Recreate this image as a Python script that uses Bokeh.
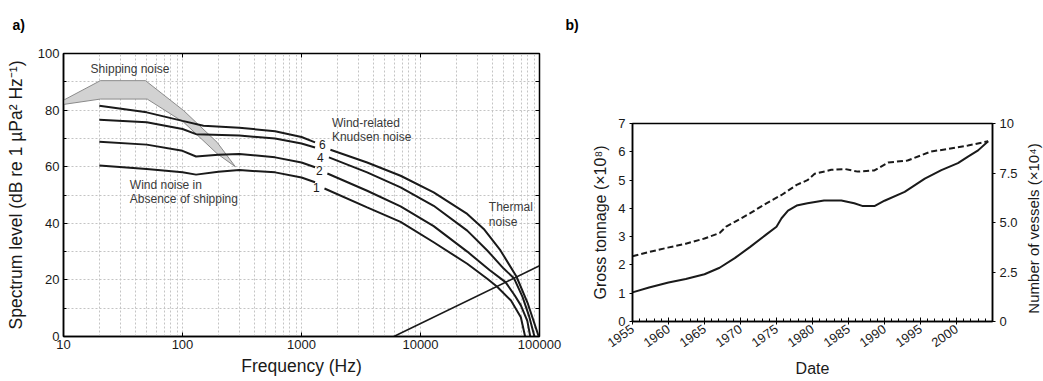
import math
from bokeh.plotting import figure
from bokeh.layouts import row, column
from bokeh.models import (Range1d, FixedTicker, LinearAxis, LogAxis,
                          PrintfTickFormatter, CustomJSTickFormatter)
from bokeh.core.properties import value
from bokeh.embed import file_html
from bokeh.resources import INLINE

FONT = "Liberation Sans"
INK = "#1a1a1a"
TXT = "#3a3a3a"

# ---------------- panel a data ----------------
# wind-noise curves (sea state 6, 4, 2, 1): low-frequency part and high-frequency part
c6_lo_f = [20, 50, 100, 150, 300, 600, 1000, 1300]
c6_lo_db = [81.5, 79.2, 76.2, 74.5, 73.8, 72.5, 70.5, 68.6]
c6_hi_f = [1750, 3560, 6800, 12900, 24700, 34000, 47000, 64000, 80000, 90000, 98500]
c6_hi_db = [66.0, 61.5, 56.8, 50.9, 43.3, 38.0, 30.4, 21.2, 11.5, 5.0, 0.0]

c4_lo_f = [20, 50, 100, 130, 300, 600, 1000, 1300]
c4_lo_db = [76.6, 75.7, 73.3, 71.5, 71.0, 70.0, 68.2, 66.8]
c4_hi_f = [1700, 3560, 6800, 12900, 24700, 36400, 50000, 61000, 72000, 82000, 90700]
c4_hi_db = [63.3, 58.0, 52.7, 46.2, 37.4, 30.4, 24.0, 20.6, 14.0, 7.0, 0.0]

c2_lo_f = [20, 50, 100, 130, 200, 300, 600, 1000, 1300]
c2_lo_db = [68.8, 67.8, 65.6, 63.6, 64.2, 64.5, 63.3, 61.5, 59.8]
c2_hi_f = [1650, 3560, 6800, 12900, 24700, 38000, 51800, 62000, 69700, 79000, 83600]
c2_hi_db = [57.6, 51.5, 46.0, 39.0, 30.0, 23.5, 19.2, 14.5, 11.0, 5.5, 0.0]

c1_lo_f = [20, 50, 100, 130, 200, 300, 600, 1000, 1300]
c1_lo_db = [60.4, 59.2, 58.0, 57.2, 58.2, 58.8, 58.0, 56.2, 54.5]
c1_hi_f = [1560, 3560, 6800, 12900, 24700, 36400, 44100, 57600, 69700, 75700]
c1_hi_db = [52.3, 45.6, 40.5, 33.3, 25.7, 20.4, 17.6, 12.7, 6.8, 0.0]

curve_label_f = [1493, 1439, 1412, 1335]
curve_label_db = [68.0, 63.3, 58.6, 52.7]
curve_label_txt = ["6", "4", "2", "1"]

thermal_f = [5970, 100000]
thermal_db = [0, 25]

ship_upper_f = [10, 20.4, 48.9, 102.4, 195.5, 278]
ship_upper_db = [83.5, 90.4, 90.4, 79.8, 68.6, 60.0]
ship_lower_f = [10, 20.4, 50.5, 102.4, 195.5, 278]
ship_lower_db = [82.0, 83.9, 83.9, 75.7, 64.6, 60.0]

ann_f = [16.9, 36.1, 36.1, 1802, 1802, 37500, 37500]
ann_db = [94.5, 53.7, 48.6, 75.4, 70.4, 45.6, 40.6]
ann_txt = ["Shipping noise", "Wind noise in", "Absence of shipping",
           "Wind-related", "Knudsen noise", "Thermal", "noise"]

freq_ticks = [10, 100, 1000, 10000, 100000]
db_ticks = [0, 20, 40, 60, 80, 100]

# ---------------- panel b data ----------------
years_gt = [1955, 1957.3, 1960, 1962.4, 1965, 1967.1, 1969.2, 1971.3, 1973.6, 1975,
            1975.7, 1976.6, 1977.8, 1979.3, 1981.6, 1984, 1985.8, 1987, 1988.6, 1990,
            1992.8, 1995.6, 1997.9, 2000.2, 2001.6, 2003, 2004.4]
gross_tonnage = [1.03, 1.2, 1.38, 1.5, 1.67, 1.9, 2.24, 2.63, 3.08, 3.35,
                 3.65, 3.92, 4.1, 4.18, 4.28, 4.28, 4.18, 4.08, 4.08, 4.27,
                 4.58, 5.05, 5.35, 5.6, 5.83, 6.05, 6.37]

years_v = [1955, 1957.3, 1959.9, 1962.4, 1965, 1967.1, 1968, 1969.2, 1971.3, 1973.6,
           1975.7, 1977.8, 1979.3, 1980.3, 1982.6, 1984.5, 1986.3, 1988.6, 1990.5,
           1993.2, 1996.5, 1998.8, 2001.6, 2004.4]
vessels = [3.3, 3.51, 3.73, 3.93, 4.19, 4.47, 4.79, 5.03, 5.46, 5.97,
           6.39, 6.9, 7.14, 7.46, 7.66, 7.7, 7.57, 7.63, 8.03,
           8.13, 8.59, 8.71, 8.89, 9.1]

year_ticks = [1955, 1960, 1965, 1970, 1975, 1980, 1985, 1990, 1995, 2000]
gt_ticks = [0, 1, 2, 3, 4, 5, 6, 7]
vessel_ticks = [0, 2.5, 5, 7.5, 10]


def style_axis(ax, size="13px", label_size="16px"):
    ax.axis_line_color = "black"
    ax.axis_line_width = 1.5
    ax.major_tick_line_color = "black"
    ax.minor_tick_line_color = "black"
    ax.major_label_text_font = FONT
    ax.major_label_text_font_size = size
    ax.major_label_text_color = INK
    ax.axis_label_text_font = FONT
    ax.axis_label_text_font_size = label_size
    ax.axis_label_text_font_style = "normal"
    ax.axis_label_text_color = INK


def style_title(t, offset, standoff):
    t.align = "left"
    t.offset = offset
    t.standoff = standoff
    t.text_font = FONT
    t.text_font_size = "14px"
    t.text_font_style = "bold"
    t.text_color = "black"


def blank(fig):
    fig.outline_line_color = None
    fig.grid.visible = False
    fig.background_fill_color = "white"
    fig.border_fill_color = "white"


HEAD = 40          # height of the strips carrying the panel letters
HEAD_TOP = 38
HEAD_STANDOFF = 12

# ================= panel a =================
W1 = 565
AL, AR = 63, W1 - 539

pa_head = figure(width=W1, height=HEAD, output_backend="svg", toolbar_location=None,
                 x_axis_location=None, y_axis_location=None, title="a)",
                 min_border_left=AL, min_border_right=AR, min_border_top=HEAD_TOP,
                 min_border_bottom=0)
blank(pa_head)
style_title(pa_head.title, -51, HEAD_STANDOFF)

p1 = figure(width=W1, height=381 - HEAD, x_axis_type="log",
            x_range=Range1d(10, 100000), y_range=Range1d(0, 100),
            output_backend="svg", toolbar_location=None,
            min_border_left=AL, min_border_right=AR, min_border_top=53 - HEAD,
            min_border_bottom=45)
p1.outline_line_color = "black"
p1.outline_line_width = 1.5
p1.background_fill_color = "white"
p1.border_fill_color = "white"

x_minor = [m * d for d in (10, 100, 1000, 10000) for m in range(2, 10)]
xt = FixedTicker(ticks=freq_ticks, minor_ticks=x_minor)
yt = FixedTicker(ticks=db_ticks, minor_ticks=[10, 30, 50, 70, 90])
p1.xaxis.ticker = xt
p1.xgrid.ticker = xt
p1.yaxis.ticker = yt
p1.ygrid.ticker = yt
p1.xaxis.formatter = PrintfTickFormatter(format="%d")
for ax in (p1.xaxis[0], p1.yaxis[0]):
    style_axis(ax, label_size="17.5px")
    ax.major_tick_in = 4
    ax.major_tick_out = 0
    ax.minor_tick_in = 0
    ax.minor_tick_out = 0
p1.yaxis.minor_tick_in = 3
p1.xaxis.major_label_standoff = 3
p1.yaxis.major_label_standoff = 4
p1.xaxis.axis_label = "Frequency (Hz)"
p1.yaxis.axis_label = "Spectrum level (dB re 1 µPa² Hz⁻¹)"
p1.xaxis.axis_label_standoff = 4
p1.yaxis.axis_label_standoff = 9

for g in (p1.xgrid[0], p1.ygrid[0]):
    g.grid_line_color = "#c4c4c4"
    g.grid_line_dash = "2 2"
    g.grid_line_width = 1
    g.minor_grid_line_color = "#c4c4c4"
    g.minor_grid_line_dash = "2 2"
    g.minor_grid_line_width = 1

top_ax = LogAxis(ticker=FixedTicker(ticks=[], minor_ticks=freq_ticks),
                 minor_tick_in=4, minor_tick_out=0, axis_line_color=None,
                 major_tick_in=0, major_tick_out=0, major_label_text_font_size="0px")
p1.add_layout(top_ax, "above")
right_ax = LinearAxis(ticker=FixedTicker(ticks=[], minor_ticks=[10, 20, 30, 40, 50, 60, 70, 80, 90]),
                      minor_tick_in=4, minor_tick_out=0, axis_line_color=None,
                      major_tick_in=0, major_tick_out=0, major_label_text_font_size="0px")
p1.add_layout(right_ax, "right")

ship_f = ship_upper_f + ship_lower_f[::-1]
ship_db = ship_upper_db + ship_lower_db[::-1]
p1.patch(ship_f, ship_db, fill_color="#d2d2d2", line_color="#8a8a8a", line_width=1)

for fx, dy in ((c6_lo_f, c6_lo_db), (c6_hi_f, c6_hi_db), (c4_lo_f, c4_lo_db), (c4_hi_f, c4_hi_db),
               (c2_lo_f, c2_lo_db), (c2_hi_f, c2_hi_db), (c1_lo_f, c1_lo_db), (c1_hi_f, c1_hi_db)):
    p1.line(fx, dy, line_color=INK, line_width=2)

p1.line(thermal_f, thermal_db, line_color=INK, line_width=1.6)

p1.text(curve_label_f, curve_label_db, text=curve_label_txt, text_font=value(FONT),
        text_font_size="12px", text_color=INK, text_align="center", text_baseline="middle")
p1.text(ann_f, ann_db, text=ann_txt, text_font=value(FONT), text_font_size="12px",
        text_color=TXT, text_align="left", text_baseline="middle")

# ================= panel b =================
X3 = 1021          # left edge of the strip holding the right-axis title
W2 = X3 - W1
BL = 632 - W1
BR = X3 - 992

pb_head = figure(width=W2, height=HEAD, output_backend="svg", toolbar_location=None,
                 x_axis_location=None, y_axis_location=None, title="b)",
                 min_border_left=BL, min_border_right=BR, min_border_top=HEAD_TOP,
                 min_border_bottom=0)
blank(pb_head)
style_title(pb_head.title, -BL, HEAD_STANDOFF)

p2 = figure(width=W2, height=381 - HEAD, x_range=Range1d(1955, 2005), y_range=Range1d(0, 7),
            output_backend="svg", toolbar_location=None,
            min_border_left=BL, min_border_right=BR, min_border_top=123 - HEAD,
            min_border_bottom=60)
p2.outline_line_color = "black"
p2.outline_line_width = 1.5
p2.background_fill_color = "white"
p2.border_fill_color = "white"
p2.xgrid.visible = False
p2.ygrid.visible = False
p2.extra_y_ranges = {"vessels": Range1d(0, 10)}

p2.xaxis.ticker = FixedTicker(ticks=year_ticks, minor_ticks=list(range(1955, 2006)))
p2.yaxis.ticker = FixedTicker(ticks=gt_ticks)
style_axis(p2.xaxis[0])
style_axis(p2.yaxis[0])
p2.xaxis.major_tick_in = 4
p2.xaxis.major_tick_out = 3
p2.xaxis.minor_tick_in = 3
p2.xaxis.minor_tick_out = 0
p2.xaxis.major_label_orientation = math.radians(35)
p2.xaxis.major_label_standoff = 3
p2.xaxis.axis_label = "Date"
p2.xaxis.axis_label_standoff = 6
p2.yaxis.major_tick_in = 0
p2.yaxis.major_tick_out = 3
p2.yaxis.minor_tick_in = 0
p2.yaxis.minor_tick_out = 0
p2.yaxis.major_label_standoff = 4
p2.yaxis.axis_label = "Gross tonnage (×10⁸)"
p2.yaxis.axis_label_standoff = 6

rax = LinearAxis(y_range_name="vessels", ticker=FixedTicker(ticks=vessel_ticks),
                 formatter=CustomJSTickFormatter(code="return (tick == 0 || tick == 10) ? tick.toFixed(0) : tick.toFixed(1);"))
style_axis(rax)
rax.major_tick_in = 0
rax.major_tick_out = 3
rax.minor_tick_in = 0
rax.minor_tick_out = 0
rax.major_label_standoff = 4
p2.add_layout(rax, "right")

p2.line(years_v, vessels, y_range_name="vessels", line_color=INK, line_width=2, line_dash="6 3")
p2.line(years_gt, gross_tonnage, line_color=INK, line_width=2)

# narrow strip whose left-side title reads bottom-to-top, as the right-axis title
W3 = 1043 - X3
p3 = figure(width=W3, height=381, output_backend="svg", toolbar_location=None,
            x_axis_location=None, y_axis_location=None,
            title="Number of vessels (×10⁴)", title_location="left",
            min_border_left=W3 - 2, min_border_right=0, min_border_top=128,
            min_border_bottom=53)
blank(p3)
p3.title.align = "center"
p3.title.standoff = 3
p3.title.text_font = FONT
p3.title.text_font_size = "15px"
p3.title.text_font_style = "normal"
p3.title.text_color = INK

layout = row(column(pa_head, p1), column(pb_head, p2), column(p3))
open("out.html", "w").write(file_html(layout, INLINE))
